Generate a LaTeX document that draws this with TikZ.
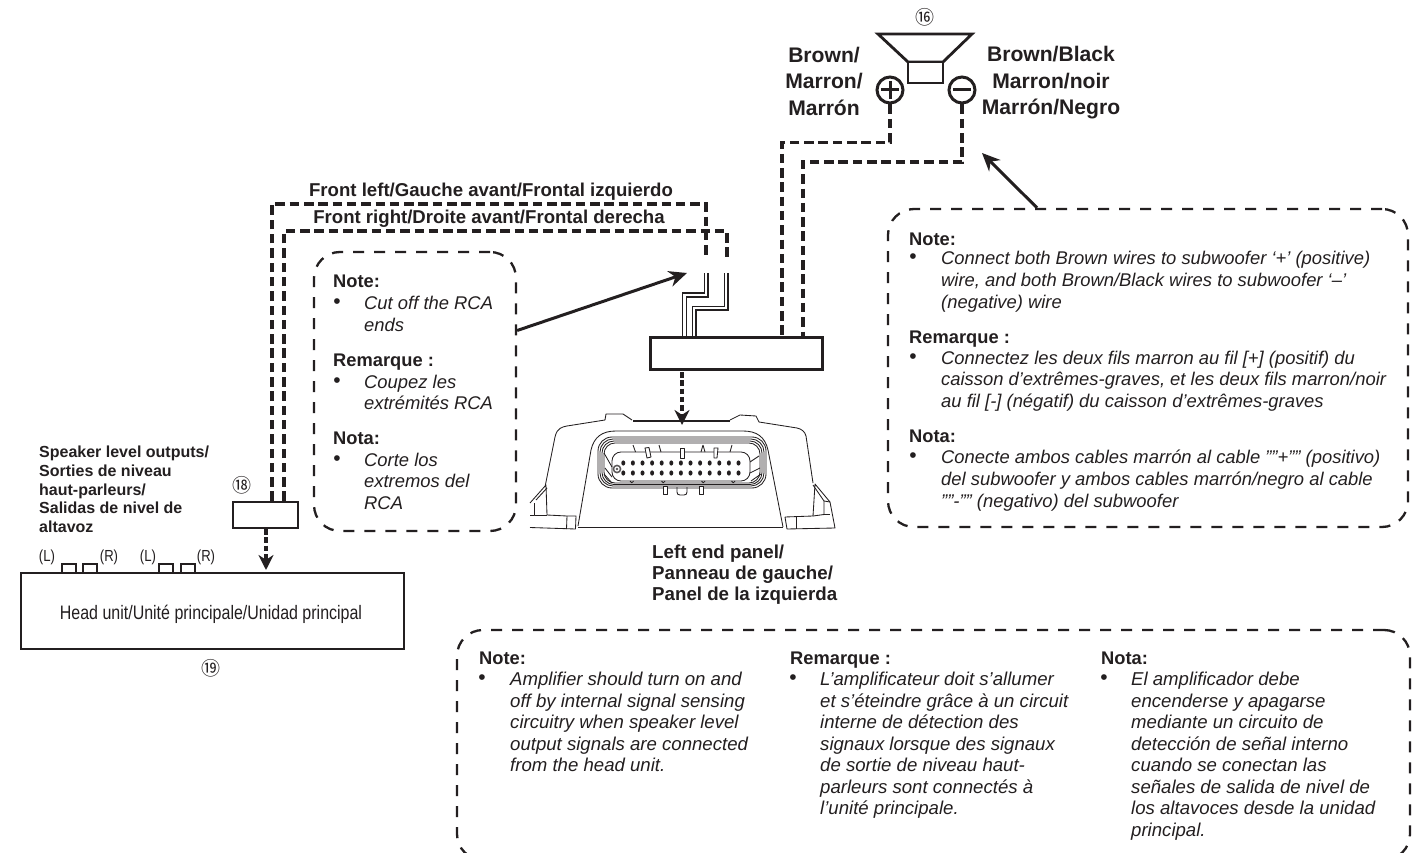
\documentclass[tikz,border=0pt]{standalone}
\usepackage{fontspec}
\setmainfont{Liberation Sans}
\newfontfamily\condfont[FakeStretch=0.82]{Liberation Sans}
\newfontfamily\symfont{Noto Sans CJK SC}
\usetikzlibrary{arrows.meta}
\definecolor{ink}{HTML}{231F20}
\tikzset{
 wire/.style={draw=ink,line width=3.2pt,dash pattern=on 9.5pt off 4.8pt},
 callout/.style={draw=ink,line width=2.3pt,dash pattern=on 11pt off 10pt,rounded corners=26pt,inner sep=0pt,fill=none},
 plainbox/.style={draw=ink,line width=2.2pt,inner sep=0pt,fill=white},
 pointer/.style={draw=ink,line width=3pt,-{Stealth[length=18pt,width=16pt]}},
 dashptr/.style={draw=ink,line width=3.3pt,dash pattern=on 5.5pt off 2.8pt,-{Stealth[length=15pt,width=15pt]}},
 core/.style={draw=ink,double=white,line width=1.4pt,double distance=2.2pt},
 amp/.style={draw=ink,line width=.85pt,line join=round},
 term/.style={circle,draw=ink,line width=3pt,minimum size=26pt,inner sep=0pt,fill=white},
 body/.style={anchor=north west,inner sep=0pt,align=left,text=ink,font=\fontsize{18.4}{21.8}\selectfont\itshape},
 bodywide/.style={body,font=\fontsize{18.6}{21.5}\selectfont\itshape},
 head/.style={anchor=north west,inner sep=0pt,text=ink,font=\fontsize{18.3}{20}\selectfont\bfseries},
 bull/.style={anchor=center,inner sep=0pt,text=ink,font=\fontsize{21}{20}\selectfont},
 lab/.style={inner sep=0pt,text=ink,align=center,font=\fontsize{21.1}{26.5}\selectfont\bfseries},
 sublab/.style={inner sep=0pt,text=ink,align=left,font=\fontsize{18.7}{21.2}\selectfont\bfseries},
 small/.style={inner sep=0pt,text=ink,font=\fontsize{19.5}{22}\selectfont\condfont},
 smaller/.style={inner sep=0pt,text=ink,font=\fontsize{16}{18}\selectfont\condfont},
 num/.style={inner sep=0pt,text=ink,font=\fontsize{19}{20}\selectfont\symfont},
 title/.style={anchor=center,inner sep=0pt,text=ink,font=\fontsize{18.6}{20}\selectfont\bfseries}
}
\begin{document}
\begin{tikzpicture}[x=1pt,y=-1pt]
\path[use as bounding box,clip] (0,0) rectangle (1425,853);
\fill[white] (0,0) rectangle (1425,853);

% speaker
\node[num] (n16) at (925,17) {⑯};
\draw[draw=ink,line width=2.8pt,line join=miter] (878,34) -- (972,34) -- (943,62) -- (908,62) -- cycle;
\node[plainbox,line width=2.6pt,minimum width=35pt,minimum height=21pt] (spk) at (925.5,72.5) {};
\node[term] (plus) at (890,90) {};
\node[term] (minus) at (962,90) {};
\draw[ink,line width=3pt] (881,90) -- (899,90) (890,81) -- (890,99);
\draw[ink,line width=3pt] (953,90) -- (971,90);
\node[lab] (lbrown) at (824,81) {Brown/\\Marron/\\Marrón};
\node[lab] (rbrown) at (1051,83) {Brown/Black\\Marron/noir\\Marrón/Negro};

% callouts
\node[callout,minimum width=202pt,minimum height=279pt] (note1) at (415,391.5) {};
\node[callout,minimum width=520pt,minimum height=318pt] (note2) at (1148,368) {};
\node[callout,minimum width=953pt,minimum height=230pt] (note3) at (933.5,745) {};

% connector block and head unit
\node[plainbox,minimum width=171pt,minimum height=31pt] (conn) at (736.5,353.5) {};
\node[plainbox,minimum width=65pt,minimum height=26pt] (b18) at (265.5,515) {};
\node[plainbox,minimum width=383pt,minimum height=76pt] (hu) at (212.5,611) {};
\node[plainbox,minimum width=14pt,minimum height=9pt] (p1) at (69,568.5) {};
\node[plainbox,minimum width=14pt,minimum height=9pt] (p2) at (90,568.5) {};
\node[plainbox,minimum width=14pt,minimum height=9pt] (p3) at (166,568.5) {};
\node[plainbox,minimum width=14pt,minimum height=9pt] (p4) at (188,568.5) {};
\node[small] (hutext) at (211,614) {Head unit/Unité principale/Unidad principal};
\node[smaller] (l1) at (47,557) {(L)};
\node[smaller] (r1) at (109,557) {(R)};
\node[smaller] (l2) at (148,557) {(L)};
\node[smaller] (r2) at (206,557) {(R)};
\node[num] (n18) at (242,485) {⑱};
\node[num] (n19) at (211,668) {⑲};

% dashed wires
\coordinate (leftEnd) at (706,257);
\coordinate (rightEnd) at (727,257);
\draw[wire] (plus.south) -- (890,142.5) -- (782,142.5) -- (782,0 |- conn.north);
\draw[wire] (minus.south) -- (962,162) -- (803,162) -- (803,0 |- conn.north);
\draw[wire] (272,0 |- b18.north) -- (272,204) -- (706,204) -- (leftEnd);
\draw[wire] (284,0 |- b18.north) -- (284,231) -- (727,231) -- (rightEnd);

% cut wire stubs
\coordinate (stubA) at (706,273);
\coordinate (stubB) at (726,273);
\draw[core] (stubA) -- (706,295) -- (684.5,295) -- (684.5,0 |- conn.north);
\draw[core] (stubB) -- (726,308) -- (694,308) -- (694,0 |- conn.north);
\draw[plainbox,fill=none] (conn.north west) rectangle (conn.south east);

% amplifier
\coordinate (ampTop) at (682,425);
\begin{scope}[amp]
\draw (545,487) -- (555,437) .. controls (557,428) and (562,427) .. (567,426) -- (605,420) -- (606,414) -- (623,414) -- (632,420);
\draw[line width=2pt] (633,420.5) -- (730,420.5);
\draw (730,420) -- (740,415) -- (756,416) -- (759,422) -- (797,428) .. controls (802,429) and (805,432) .. (806,436) -- (813,483);
\draw (578,526) -- (591,450) .. controls (594,437) and (602,431) .. (616,431) -- (743,431) .. controls (757,431) and (765,437) .. (768,450) -- (783,527);
\draw (578,527) -- (783,527);
% left foot
\draw (530,503) -- (546,485) -- (547,515) -- (567,516) -- (576,516) -- (575.5,529) -- (530,527.5);
\draw (567,516) -- (566.5,529);
\draw (534,503) -- (534,515.5) -- (547,515.5);
\draw (536,500) -- (547,488);
\draw (530,515) -- (534,515);
% right foot
\draw (785,517) -- (787,529) -- (835,528) -- (830,502) -- (815,484) -- (813,516) -- (785,517);
\draw (796.5,517) -- (796.5,529);
\draw (813,485) -- (824,501) -- (824,514.5) -- (813,516);
\draw (824,501) -- (830,502);
\draw (824,514.5) -- (830,514.5);
% nested seals
\draw[rounded corners=14pt] (598,437) rectangle (766,488);
\draw[rounded corners=13pt] (600,439) rectangle (764,486);
\draw[rounded corners=12pt] (602,441) rectangle (762,484.5);
\draw[rounded corners=11pt] (604,443) rectangle (760,483);
\draw[rounded corners=9pt] (612,452) rectangle (750,481);
% ticks and tabs
\draw (633,445) -- (635.5,452) (659,445) -- (661,452) (703,445) -- (705,452) (732,445) -- (730,452) (703,445) -- (701,452);
\draw[fill=white] (645,448) -- (649,447.5) -- (651,457) -- (647,458) -- cycle;
\draw[fill=white] (680,448) rectangle (684,458);
\draw[fill=white] (714,448) -- (718,448) -- (717,458) -- (714,458) -- cycle;
\draw[fill=white] (663,486) rectangle (667,494);
\draw[fill=white] (699,486) rectangle (703,494);
\draw (677,487) -- (677,492) .. controls (677,494) and (678,495) .. (680,495) -- (684,495) .. controls (686,495) and (687,494) .. (687,492) -- (687,487);
\draw (630,481) arc (180:0:1.8) (661.5,481) arc (180:0:1.8) (701.5,481) arc (180:0:1.8) (731.5,481) arc (180:0:1.8);
% fins
\draw (604,453) -- (612,467) (604,474) -- (612,483) (605,468) -- (612,477);
\draw (750,462) -- (759,456) (750,473) -- (760,468) (751,481) -- (761,474);
\end{scope}
\foreach \i in {0,...,12} {
  \fill[ink] ({623.3+9.6*\i},463) ellipse (2pt and 2.6pt);
  \fill[ink] ({623.3+9.6*\i},473) ellipse (2pt and 2.6pt);
}
\draw[ink!75,line width=1.5pt] (617,469) circle (3.6pt);
\fill[ink!75] (617,469) circle (1.4pt);

% connectors
\draw[pointer] ([yshift=61pt]note1.east) -- (687,273);
\draw[pointer] (1037,0 |- note2.north) -- (982,153);
\draw[dashptr] (682,372) -- (ampTop);
\draw[dashptr] (266,0 |- b18.south) -- (266,570);

% labels
\node[title] (fl) at (491,192) {Front left/Gauche avant/Frontal izquierdo};
\node[title] (fr) at (489,219) {Front right/Droite avant/Frontal derecha};
\node[anchor=north west,inner sep=0pt,text=ink,align=left,font=\fontsize{16}{18.7}\selectfont\bfseries] (spklvl) at (39,446) {Speaker level outputs/\\Sorties de niveau\\haut-parleurs/\\Salidas de nivel de\\altavoz};
\node[anchor=north west,sublab] (lep) at (652,544.5) {Left end panel/\\Panneau de gauche/\\Panel de la izquierda};

% note 1
\node[head] (h11) at (333,275) {Note:};
\node[bull] (b11) at (337,304) {•};
\node[body] (t11) at (364,296) {Cut off the RCA\\ends};
\node[head] (h12) at (333,354) {Remarque :};
\node[bull] (b12) at (337,382.5) {•};
\node[body] (t12) at (364,374.5) {Coupez les\\extrémités RCA};
\node[head] (h13) at (333,432) {Nota:};
\node[bull] (b13) at (337,460.5) {•};
\node[body] (t13) at (364,452.5) {Corte los\\extremos del\\RCA};

% note 2
\node[head] (h21) at (909,232.5) {Note:};
\node[bull] (b21) at (913,259) {•};
\node[body] (t21) at (941,251) {Connect both Brown wires to subwoofer ‘+’ (positive)\\wire, and both Brown/Black wires to subwoofer ‘–’\\(negative) wire};
\node[head] (h22) at (909,331) {Remarque :};
\node[bull] (b22) at (913,358.5) {•};
\node[body] (t22) at (941,350.5) {Connectez les deux fils marron au fil [+] (positif) du\\caisson d’extrêmes-graves, et les deux fils marron/noir\\au fil [-] (négatif) du caisson d’extrêmes-graves};
\node[head] (h23) at (909,430) {Nota:};
\node[bull] (b23) at (913,458) {•};
\node[body] (t23) at (941,450) {Conecte ambos cables marrón al cable ""+"" (positivo)\\del subwoofer y ambos cables marrón/negro al cable\\""-"" (negativo) del subwoofer};

% note 3
\node[head] (h31) at (479,652) {Note:};
\node[bull] (b31) at (482,680) {•};
\node[bodywide] (t31) at (510,672) {Amplifier should turn on and\\off by internal signal sensing\\circuitry when speaker level\\output signals are connected\\from the head unit.};
\node[head] (h32) at (790,652) {Remarque :};
\node[bull] (b32) at (793,680) {•};
\node[bodywide] (t32) at (820,672) {L’amplificateur doit s’allumer\\et s’éteindre grâce à un circuit\\interne de détection des\\signaux lorsque des signaux\\de sortie de niveau haut-\\parleurs sont connectés à\\l’unité principale.};
\node[head] (h33) at (1101,652) {Nota:};
\node[bull] (b33) at (1104,680) {•};
\node[bodywide] (t33) at (1131,672) {El amplificador debe\\encenderse y apagarse\\mediante un circuito de\\detección de señal interno\\cuando se conectan las\\señales de salida de nivel de\\los altavoces desde la unidad\\principal.};
\end{tikzpicture}
\end{document}
